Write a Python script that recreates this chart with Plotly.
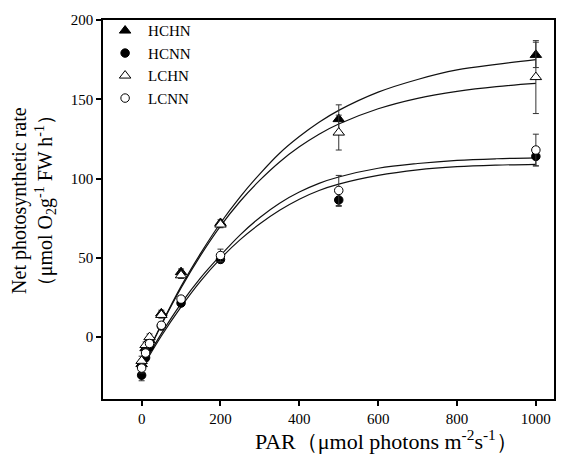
import plotly.graph_objects as go

# Measured points
par = [0, 10, 20, 50, 100, 200, 500, 1000]
hchn = [-17, -7, -2, 15, 41, 72, 137.5, 178]
hchn_err = [3, 2, 2, 2, 2, 2, 9, 8]
hcnn = [-24, -13, -6, 7, 21.5, 49, 86.5, 114]
hcnn_err = [3.5, 2, 2, 2, 2, 2, 4, 6]
lchn = [-15, -5, 0, 14, 39, 71, 129, 164]
lchn_err = [3, 2, 2, 2, 2, 2, 11, 23]
lcnn = [-19.5, -10, -4, 7.5, 24, 51.5, 92.5, 118]
lcnn_err = [3, 2, 2, 2, 2, 4, 9.5, 10]

# Fitted curves
fit_par = [0, 50, 100, 150, 200, 250, 300, 350, 400, 450, 500, 600, 700, 800, 900, 1000]
fit_hchn = [-18, 8, 32, 53, 72, 88.5, 103, 116, 126.5, 135.5, 143, 154.5, 162.5, 168.5, 172, 175]
fit_lchn = [-18, 7.7, 31, 51.7, 70, 85.7, 99, 110.5, 120, 128, 134.4, 144, 150.6, 155, 158, 160]
fit_hcnn = [-20, 0.7, 19.1, 35.5, 49.5, 61.5, 71.5, 80, 87, 92.5, 96.5, 102, 105.5, 107.5, 108.5, 109]
fit_lcnn = [-19, 2.2, 21.1, 37.5, 51.5, 64.5, 75.5, 84.5, 91.5, 97, 101, 106.5, 109.5, 111.5, 112.5, 113]

x_ticks = [0, 200, 400, 600, 800, 1000]
y_ticks = [0, 50, 100, 150, 200]

FONT = "Liberation Serif, Times New Roman, serif"

fig = go.Figure()

for fy in [fit_hchn, fit_lchn, fit_hcnn, fit_lcnn]:
    fig.add_trace(go.Scatter(
        x=fit_par, y=fy, mode="lines", showlegend=False, hoverinfo="skip",
        line=dict(color="#111111", width=1.2, shape="spline", smoothing=1.0),
    ))

series = [
    ("HCHN", hchn, hchn_err, "triangle-up", "black", 10),
    ("HCNN", hcnn, hcnn_err, "circle", "black", 8.5),
    ("LCHN", lchn, lchn_err, "triangle-up", "white", 10),
    ("LCNN", lcnn, lcnn_err, "circle", "white", 8.5),
]
for name, ys, es, sym, fill, sz in series:
    fig.add_trace(go.Scatter(
        x=par, y=ys, mode="markers", name=name,
        marker=dict(symbol=sym, size=sz, color=fill, line=dict(color="black", width=1)),
        error_y=dict(type="data", array=es, visible=True, color="#333333", thickness=1, width=3),
    ))

fig.update_layout(
    width=568, height=454,
    margin=dict(l=103, r=13, t=18, b=55),
    paper_bgcolor="white", plot_bgcolor="white",
    font=dict(family=FONT, size=15, color="black"),
    showlegend=True,
    legend=dict(
        x=-0.002, y=1.015, xanchor="left", yanchor="top",
        bgcolor="rgba(0,0,0,0)", borderwidth=0,
        font=dict(family=FONT, size=15, color="black"),
        itemwidth=36, tracegroupgap=0,
    ),
    xaxis=dict(
        range=[-98, 1046], tickvals=x_ticks, ticktext=[str(v) for v in x_ticks],
        showgrid=False, zeroline=False, showline=True, linecolor="black", linewidth=1.5,
        mirror=True, ticks="outside", ticklen=5, tickwidth=1.5, tickcolor="black",
        tickfont=dict(family=FONT, size=15),
    ),
    yaxis=dict(
        range=[-39, 200], tickvals=y_ticks, ticktext=[str(v) for v in y_ticks],
        showgrid=False, zeroline=False, showline=True, linecolor="black", linewidth=1.5,
        mirror=True, ticks="outside", ticklen=5, tickwidth=1.5, tickcolor="black",
        tickfont=dict(family=FONT, size=15),
    ),
    annotations=[
        dict(
            text="PAR（μmol photons m<sup>-2</sup>s<sup>-1</sup>）",
            xref="paper", yref="paper", x=0.628, y=-0.108,
            xanchor="center", yanchor="middle", showarrow=False,
            font=dict(family=FONT, size=22, color="black"),
        ),
        dict(
            text="Net photosynthetic rate<br>（μmol O<sub>2</sub>g<sup>-1</sup> FW h<sup>-1</sup>）",
            xref="paper", yref="paper", x=-0.155, y=0.522,
            xanchor="center", yanchor="middle", showarrow=False, textangle=-90,
            font=dict(family=FONT, size=20, color="black"),
        ),
    ],
)

fig.write_html("out.html", config={"displayModeBar": False},
               post_script="document.body.style.margin='0px';")
